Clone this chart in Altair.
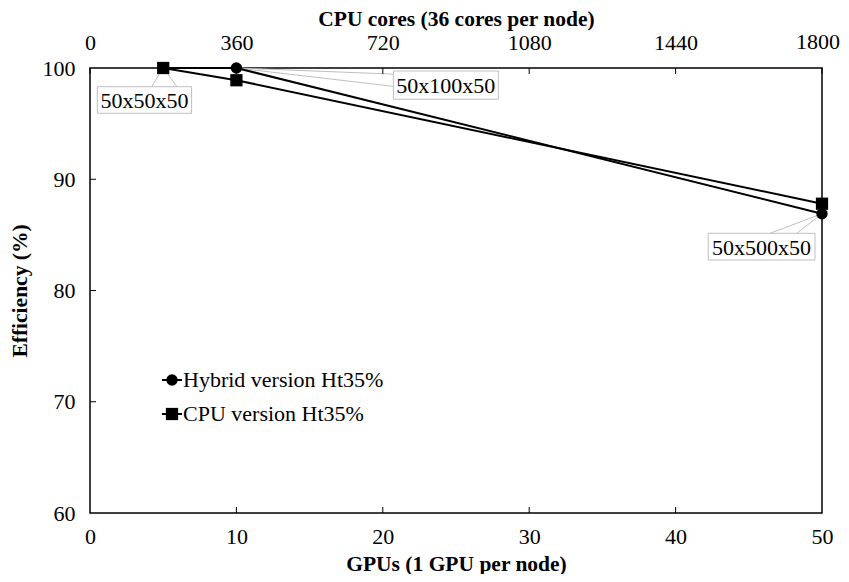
import altair as alt
import pandas as pd

# ---- data ----
gpus = [5, 10, 50]
hybrid = [100.0, 100.0, 86.9]
cpu = [100.0, 98.9, 87.8]
series_names = ["Hybrid version Ht35%", "CPU version Ht35%"]

gpu_ticks = [0, 10, 20, 30, 40, 50]
core_ticks = [0, 360, 720, 1080, 1440, 1800]
eff_ticks = [60, 70, 80, 90, 100]

# callout annotations (data coordinates)
labels = ["50x50x50", "50x100x50", "50x500x50"]
label_px = [5, 10, 50]
label_py = [100.0, 100.0, 86.9]
box_x1 = [0.5, 20.72, 42.23]
box_x2 = [6.94, 27.89, 49.52]
box_y1 = [98.32, 99.73, 85.14]
box_y2 = [95.93, 97.19, 82.74]
lead_ax = [4.21, 20.72, 46.45]
lead_ay = [98.32, 99.45, 85.14]
lead_bx = [5.94, 20.72, 48.27]
lead_by = [98.32, 98.35, 85.14]

FONT = "Times New Roman, Liberation Serif, serif"
FS = 22
W, H = 732, 445

df = pd.DataFrame({
    "gpu": gpus * 2,
    "eff": hybrid + cpu,
    "series": [series_names[0]] * 3 + [series_names[1]] * 3,
})
ann = pd.DataFrame({
    "label": labels, "px": label_px, "py": label_py,
    "x1": box_x1, "x2": box_x2, "y1": box_y1, "y2": box_y2,
    "ax": lead_ax, "ay": lead_ay, "bx": lead_bx, "by": lead_by,
})

xs = alt.Scale(domain=[0, 50], nice=False)
ys = alt.Scale(domain=[60, 100], nice=False)

x_axis = alt.Axis(values=gpu_ticks, title="GPUs (1 GPU per node)", ticks=False, labelFlush=False,
                  grid=False, labelPadding=13, titlePadding=6, domain=False)
y_axis = alt.Axis(values=eff_ticks, title="Efficiency (%)", ticks=False, labelFlush=False,
                  grid=False, labelPadding=15, titlePadding=11, domain=False)

base = alt.Chart(df)

lines = base.mark_line(color="black", strokeWidth=2).encode(
    x=alt.X("gpu:Q", scale=xs, axis=x_axis),
    y=alt.Y("eff:Q", scale=ys, axis=y_axis),
    detail="series:N",
)
points = base.mark_point(filled=True, color="black", opacity=1).encode(
    x=alt.X("gpu:Q", scale=xs),
    y=alt.Y("eff:Q", scale=ys),
    shape=alt.Shape("series:N", scale=alt.Scale(domain=series_names, range=["circle", "square"]), legend=None),
    size=alt.Size("series:N", scale=alt.Scale(domain=series_names, range=[130, 150]), legend=None),
)

a = alt.Chart(ann)
lead1 = a.mark_rule(color="#bfbfbf", strokeWidth=1).encode(
    x=alt.X("px:Q", scale=xs), y=alt.Y("py:Q", scale=ys), x2="ax:Q", y2="ay:Q")
lead2 = a.mark_rule(color="#bfbfbf", strokeWidth=1).encode(
    x=alt.X("px:Q", scale=xs), y=alt.Y("py:Q", scale=ys), x2="bx:Q", y2="by:Q")
boxes = a.mark_rect(fill="white", stroke="#bfbfbf", strokeWidth=1).encode(
    x=alt.X("x1:Q", scale=xs), x2="x2:Q", y=alt.Y("y1:Q", scale=ys), y2="y2:Q")
texts = a.transform_calculate(
    cx="(datum.x1 + datum.x2) / 2", cy="(datum.y1 + datum.y2) / 2"
).mark_text(font=FONT, fontSize=FS, color="black", baseline="middle", align="center", dy=1).encode(
    x=alt.X("cx:Q", scale=xs), y=alt.Y("cy:Q", scale=ys), text="label:N")

# inward tick marks
tick_x = alt.Chart(pd.DataFrame({"t": gpu_ticks[1:-1]})).mark_rule(color="black").encode(
    x=alt.X("t:Q", scale=xs), y=alt.value(H - 6), y2=alt.value(H))
tick_y = alt.Chart(pd.DataFrame({"t": eff_ticks[1:-1]})).mark_rule(color="black").encode(
    y=alt.Y("t:Q", scale=ys), x=alt.value(0), x2=alt.value(6))

# manual legend
leg = []
for i, (name, shp, sz) in enumerate(zip(series_names, ["circle", "square"], [130, 150])):
    yy = 312 + 34 * i
    one = alt.Chart(pd.DataFrame({"name": [name]}))
    leg.append(one.mark_rule(color="black", strokeWidth=2).encode(
        x=alt.value(72), x2=alt.value(92), y=alt.value(yy)))
    leg.append(one.mark_point(filled=True, color="black", opacity=1, shape=shp, size=sz).encode(
        x=alt.value(82), y=alt.value(yy)))
    leg.append(one.mark_text(font=FONT, fontSize=FS, align="left", baseline="middle", color="black").encode(
        x=alt.value(93), y=alt.value(yy), text="name:N"))

main = alt.layer(lead1, lead2, boxes, lines, points, texts, tick_x, tick_y, *leg)

# top axis (CPU cores); the last label is drawn as a text mark so it stays on the page
cs = alt.Scale(domain=[0, 1800], nice=False)
top_ticks = alt.Chart(pd.DataFrame({"c": core_ticks})).mark_rule(color="black").encode(
    x=alt.X("c:Q", scale=cs, axis=alt.Axis(orient="top", values=core_ticks[:-1], format="d",
                                            title="CPU cores (36 cores per node)", labelFlush=False,
                                            ticks=False, grid=False, domain=False,
                                            labelPadding=14, titlePadding=1)),
    y=alt.value(0), y2=alt.value(6),
)
last_lbl = alt.Chart(pd.DataFrame({"c": core_ticks[-1:]})).mark_text(
    font=FONT, fontSize=FS, align="right", baseline="bottom", dx=18, dy=-14, color="black"
).encode(x=alt.X("c:Q", scale=cs), y=alt.value(0), text=alt.Text("c:Q", format="d"))

top = alt.layer(top_ticks, last_lbl)

chart = alt.layer(main, top).resolve_scale(x="independent").properties(
    width=W, height=H,
    autosize=alt.AutoSizeParams(type="none"),
    padding={"left": 82, "top": 60, "right": 19, "bottom": 61},
).configure_view(stroke="black", strokeWidth=1.5).configure_axis(
    labelFont=FONT, titleFont=FONT, labelFontSize=FS, titleFontSize=21.5,
    labelColor="black", titleColor="black", titleFontWeight="bold", labelFontWeight="normal",
)

chart.save("out.html", embed_options={"renderer": "svg", "actions": False})
